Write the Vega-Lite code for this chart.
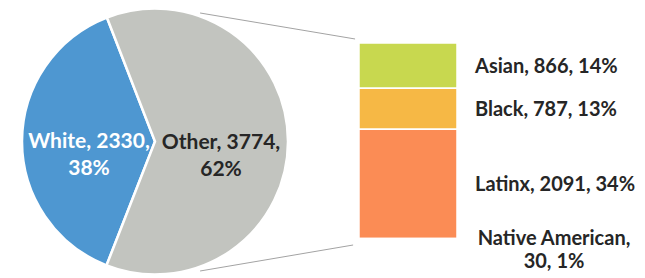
{
  "$schema": "https://vega.github.io/schema/vega-lite/v6.json",
  "width": 645,
  "height": 278,
  "padding": 0,
  "autosize": {"type": "none"},
  "background": "white",
  "config": {"view": {"stroke": null}, "font": "Lato"},
  "datasets": {
    "pie": [
      {"group": "White", "count": 2330, "pct": 38},
      {"group": "Other", "count": 3774, "pct": 62}
    ],
    "breakdown": [
      {"group": "Asian", "count": 866, "pct": 14},
      {"group": "Black", "count": 787, "pct": 13},
      {"group": "Latinx", "count": 2091, "pct": 34},
      {"group": "Native American", "count": 30, "pct": 1}
    ]
  },
  "layer": [
    {
      "data": {"values": [{}]},
      "mark": {"type": "rule", "color": "#a3a3a3", "strokeWidth": 1},
      "encoding": {
        "x": {"datum": "Pie", "type": "nominal", "bandPosition": 0.96,
              "scale": {"type": "band", "domain": ["Pie", "Breakdown"], "range": [106, 457], "paddingInner": 0.6126, "paddingOuter": 0},
              "axis": null},
        "x2": {"datum": "Breakdown", "bandPosition": -0.04},
        "y": {"datum": 4349, "type": "quantitative",
              "scale": {"domain": [-728, 4598], "nice": false, "zero": false},
              "axis": null},
        "y2": {"datum": 3851}
      }
    },
    {
      "data": {"values": [{}]},
      "mark": {"type": "rule", "color": "#a3a3a3", "strokeWidth": 1},
      "encoding": {
        "x": {"datum": "Pie", "type": "nominal", "bandPosition": 0.96},
        "x2": {"datum": "Breakdown", "bandPosition": -0.06},
        "y": {"datum": -594, "type": "quantitative"},
        "y2": {"datum": -96}
      }
    },
    {
      "data": {"name": "pie"},
      "transform": [
        {"stack": "count", "groupby": [], "sort": [{"field": "group", "order": "ascending"}], "as": ["t0", "t1"]}
      ],
      "mark": {"type": "arc", "outerRadius": 133, "stroke": "white", "strokeWidth": 2.5},
      "encoding": {
        "x": {"datum": "Pie", "type": "nominal"},
        "y": {"datum": 1887, "type": "quantitative"},
        "theta": {"field": "t0", "type": "quantitative", "scale": {"domain": [0, 6104], "range": [-0.37, 5.913]}},
        "theta2": {"field": "t1"},
        "color": {"field": "group", "type": "nominal",
                  "scale": {"domain": ["White", "Other", "Asian", "Black", "Latinx", "Native American"],
                            "range": ["#4e97d1", "#c2c4bf", "#c8d84f", "#f6b845", "#fb8c55", "#e8612c"]},
                  "legend": null}
      }
    },
    {
      "data": {"name": "pie"},
      "transform": [
        {"stack": "count", "groupby": [], "sort": [{"field": "group", "order": "ascending"}], "as": ["t0", "t1"]},
        {"calculate": "(datum.t0 + datum.t1) / 2", "as": "tm"},
        {"calculate": "[datum.group + ', ' + datum.count + ',', datum.pct + '%']", "as": "label"}
      ],
      "mark": {"type": "text", "radius": 66, "fontSize": 21, "fontWeight": "bold", "lineHeight": 27, "baseline": "middle", "align": "center", "dy": 1},
      "encoding": {
        "x": {"datum": "Pie", "type": "nominal"},
        "y": {"datum": 1887, "type": "quantitative"},
        "theta": {"field": "tm", "type": "quantitative"},
        "text": {"field": "label", "type": "nominal"},
        "color": {"condition": {"test": "datum.group === 'White'", "value": "#ffffff"}, "value": "#262626"}
      }
    },
    {
      "data": {"name": "breakdown"},
      "transform": [
        {"stack": "count", "groupby": [], "sort": [{"field": "group", "order": "descending"}], "as": ["y0", "y1"]}
      ],
      "mark": {"type": "bar", "stroke": "white", "strokeWidth": 1.5},
      "encoding": {
        "x": {"datum": "Breakdown", "type": "nominal"},
        "y": {"field": "y0", "type": "quantitative"},
        "y2": {"field": "y1"},
        "color": {"field": "group", "type": "nominal"}
      }
    },
    {
      "data": {"name": "breakdown"},
      "transform": [
        {"stack": "count", "groupby": [], "sort": [{"field": "group", "order": "descending"}], "as": ["y0", "y1"]},
        {"calculate": "(datum.y0 + datum.y1) / 2", "as": "ym"},
        {"filter": "datum.group !== 'Native American'"},
        {"calculate": "datum.group + ', ' + datum.count + ', ' + datum.pct + '%'", "as": "label"}
      ],
      "mark": {"type": "text", "fontSize": 20, "fontWeight": "bold", "align": "left", "baseline": "middle", "dx": 18, "dy": 1, "color": "#262626"},
      "encoding": {
        "x": {"datum": "Breakdown", "type": "nominal", "bandPosition": 1},
        "y": {"field": "ym", "type": "quantitative"},
        "text": {"field": "label", "type": "nominal"}
      }
    },
    {
      "data": {"name": "breakdown"},
      "transform": [
        {"stack": "count", "groupby": [], "sort": [{"field": "group", "order": "descending"}], "as": ["y0", "y1"]},
        {"calculate": "(datum.y0 + datum.y1) / 2", "as": "ym"},
        {"filter": "datum.group === 'Native American'"},
        {"calculate": "[datum.group + ',', datum.count + ', ' + datum.pct + '%']", "as": "label"}
      ],
      "mark": {"type": "text", "fontSize": 20, "fontWeight": "bold", "align": "center", "baseline": "middle", "dx": 97, "dy": 0, "lineHeight": 23, "color": "#262626"},
      "encoding": {
        "x": {"datum": "Breakdown", "type": "nominal", "bandPosition": 1},
        "y": {"field": "ym", "type": "quantitative"},
        "text": {"field": "label", "type": "nominal"}
      }
    }
  ]
}
